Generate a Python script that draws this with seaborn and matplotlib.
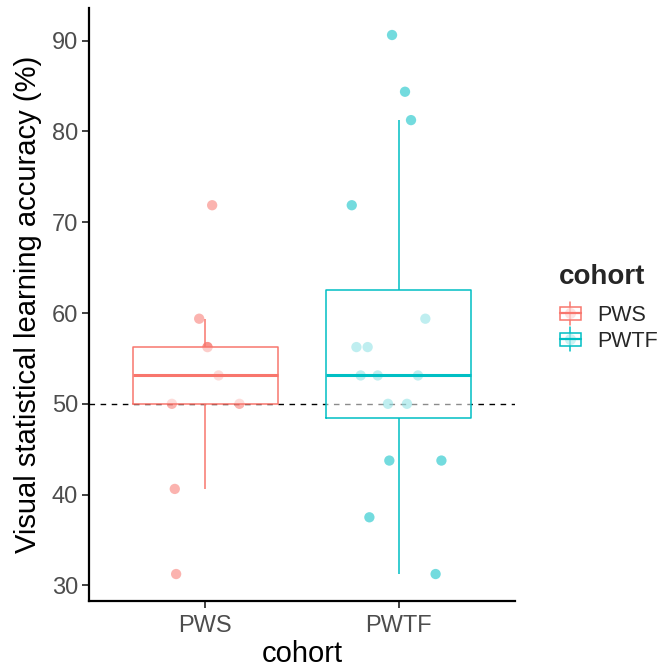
import numpy as np
import pandas as pd
import matplotlib
matplotlib.use("Agg")
import matplotlib.pyplot as plt
import seaborn as sns
from matplotlib.legend_handler import HandlerBase
from matplotlib.patches import Rectangle, Patch
from matplotlib.lines import Line2D

# ---------------- data ----------------
cohorts = ["PWS", "PWTF"]
colors = ["#F8766D", "#00BFC4"]

pws_acc = [71.875, 59.375, 56.25, 56.25, 53.125, 50.0, 50.0, 40.625, 31.25]
pws_jitter = [0.036, -0.031, 0.012, 0.012, 0.069, -0.172, 0.177, -0.157, -0.150]

pwtf_acc = [90.625, 84.375, 81.25, 71.875, 59.375, 56.25, 56.25, 53.125, 53.125,
            53.125, 50.0, 50.0, 43.75, 43.75, 37.5, 31.25]
pwtf_jitter = [-0.035, 0.032, 0.063, -0.243, 0.137, -0.219, -0.161, -0.197, -0.109,
               0.099, -0.056, 0.042, -0.049, 0.220, -0.152, 0.190]

chance_level = 50
y_ticks = [30, 40, 50, 60, 70, 80, 90]

df = pd.DataFrame({
    "cohort": ["PWS"] * len(pws_acc) + ["PWTF"] * len(pwtf_acc),
    "acc": pws_acc + pwtf_acc,
    "jit": pws_jitter + pwtf_jitter,
})
df["cohort"] = pd.Categorical(df["cohort"], categories=cohorts)
df["xpos"] = df["cohort"].cat.codes + df["jit"]

# ---------------- plot ----------------
sns.set_theme(style="ticks")
plt.rcParams["font.family"] = ["Liberation Sans", "DejaVu Sans"]

fig = plt.figure(figsize=(6.62, 6.70), dpi=100)
ax = fig.add_axes([89 / 662, 1 - 601 / 670, (515 - 89) / 662, (601 - 8) / 670])

ax.axhline(chance_level, color="black", linestyle=(0, (4, 4)), linewidth=1.0, zorder=1)

sns.scatterplot(data=df, x="xpos", y="acc", hue="cohort", palette=colors,
                hue_order=cohorts, s=55, alpha=0.55, linewidth=0, ax=ax,
                legend=False, zorder=2)

# semi-transparent white box fill (drawn over the points)
n_before = len(ax.patches)
sns.boxplot(data=df, x="cohort", y="acc", order=cohorts, color="white", fill=True,
            width=0.75, showfliers=False, showcaps=False, whis=1.5, linewidth=0,
            boxprops={"facecolor": (1, 1, 1, 0.55), "edgecolor": "none"},
            whiskerprops={"visible": False}, medianprops={"visible": False},
            capprops={"visible": False}, ax=ax)
for p in ax.patches[n_before:]:
    p.set_facecolor((1, 1, 1, 0.55))
    p.set_edgecolor("none")
    p.set_zorder(3)

n_lines = len(ax.lines)
sns.boxplot(data=df, x="cohort", y="acc", hue="cohort", palette=colors,
            order=cohorts, hue_order=cohorts, fill=False, width=0.75,
            showfliers=False, showcaps=False, whis=1.5, linewidth=1.1,
            medianprops={"linewidth": 2.2}, ax=ax, legend=False)
for ln in ax.lines[n_lines:]:
    ln.set_zorder(4)

ax.set_xlim(-0.6, 1.6)
ax.set_ylim(28.28, 93.6)
ax.set_yticks(y_ticks)
ax.set_xticks([0, 1])
ax.set_xticklabels(cohorts)

for s in ["top", "right"]:
    ax.spines[s].set_visible(False)
for s in ["left", "bottom"]:
    ax.spines[s].set_linewidth(1.6)
    ax.spines[s].set_color("black")
ax.tick_params(axis="both", length=5, width=1.3, color="#333333",
               labelsize=17, labelcolor="#4D4D4D")
ax.tick_params(axis="x", pad=5)
ax.tick_params(axis="y", pad=3)

ax.set_xlabel("cohort", fontsize=21, color="black", labelpad=2)
ax.set_ylabel("Visual statistical learning accuracy (%)", fontsize=21, color="black", labelpad=7)


class BoxHandler(HandlerBase):
    def create_artists(self, legend, orig_handle, xdescent, ydescent, width, height,
                       fontsize, trans):
        c = orig_handle.get_edgecolor()
        cx = width / 2 - xdescent
        cy = height / 2 - ydescent
        bw = width * 0.9
        bh = height * 0.55
        arts = []
        arts.append(Line2D([cx, cx], [cy - height * 0.52, cy + height * 0.52],
                           color=c, lw=1.1, transform=trans))
        arts.append(Line2D([cx], [cy], marker="o", markersize=8, color=c, alpha=0.4,
                           markeredgewidth=0, linestyle="none", transform=trans))
        arts.append(Rectangle((cx - bw / 2, cy - bh / 2), bw, bh, facecolor=(1, 1, 1, 0.5),
                              edgecolor=c, lw=1.1, transform=trans))
        arts.append(Line2D([cx - bw / 2, cx + bw / 2], [cy, cy], color=c, lw=1.6,
                           transform=trans))
        return arts


handles = [Patch(edgecolor=c, facecolor="white") for c in colors]
leg = fig.legend(handles, cohorts, handler_map={Patch: BoxHandler()},
                 title="cohort", loc="upper left", bbox_to_anchor=(550 / 662, 1 - 255 / 670),
                 frameon=False, fontsize=15.5, title_fontsize=20, handlelength=1.1,
                 handleheight=1.25, handletextpad=0.7, labelspacing=0.1,
                 borderaxespad=0, alignment="left")
leg.get_title().set_fontweight("bold")
leg._legend_box.sep = 9

fig.savefig("out.png", dpi=100)
